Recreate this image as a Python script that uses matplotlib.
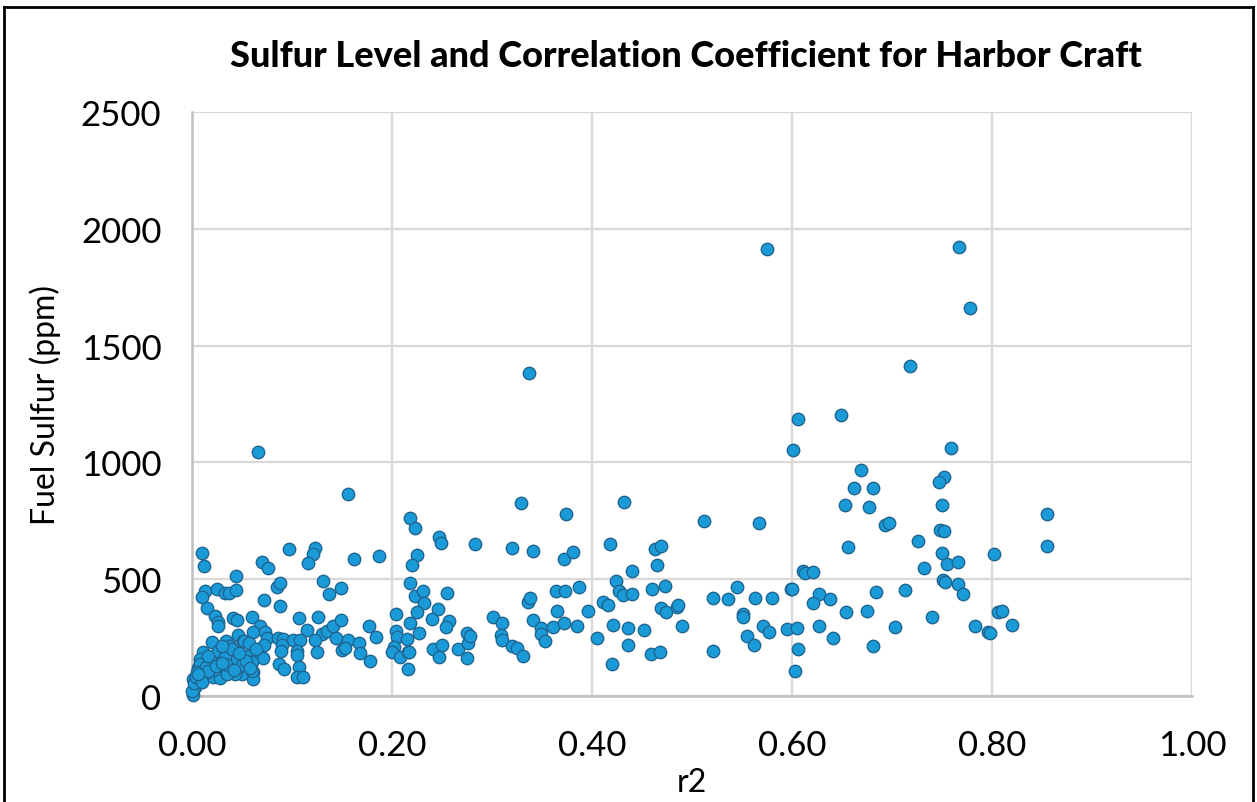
"""
Scatter of fuel sulfur vs r2 for harbor craft.
"""

import matplotlib
matplotlib.use("Agg")
import matplotlib.pyplot as plt
from matplotlib.lines import Line2D

# r2 values (x) and fuel sulfur in ppm (y)
r2 = [
    # dense cluster, r2 < 0.19
    0.066, 0.156, 0.010, 0.012, 0.070, 0.076, 0.097, 0.123, 0.121, 0.116, 0.162, 0.187,
    0.044, 0.013, 0.010, 0.025, 0.033, 0.037, 0.044, 0.015, 0.072, 0.085, 0.088, 0.088,
    0.131, 0.137, 0.149, 0.023, 0.026, 0.026, 0.041, 0.045, 0.060, 0.068, 0.061, 0.073,
    0.075, 0.046, 0.051, 0.107, 0.115, 0.126, 0.130, 0.135, 0.141, 0.149, 0.144, 0.156,
    0.150, 0.153, 0.167, 0.168, 0.177, 0.178, 0.184, 0.086, 0.091, 0.101, 0.108, 0.123,
    0.090, 0.089, 0.105, 0.105, 0.125, 0.087, 0.092, 0.107, 0.105, 0.111, 0.020, 0.011,
    0.028, 0.034, 0.038, 0.052, 0.057, 0.055, 0.066, 0.071, 0.060, 0.061, 0.061, 0.050,
    0.043, 0.048, 0.037, 0.031, 0.018, 0.008, 0.006, 0.001, 0.003, 0.001, 0.011, 0.021,
    0.028, 0.023, 0.035, 0.020, 0.026, 0.033, 0.036, 0.045, 0.050, 0.060, 0.072, 0.013,
    0.008, 0.003, 0.000, 0.002, 0.005, 0.004, 0.014, 0.016,
    0.040, 0.030, 0.016, 0.024, 0.042, 0.054, 0.064, 0.047, 0.010, 0.006, 0.030, 0.058,
    # 0.19 - 0.40
    0.337, 0.218, 0.223, 0.247, 0.249, 0.283, 0.329, 0.374, 0.320, 0.341, 0.372, 0.381,
    0.225, 0.220, 0.218, 0.223, 0.231, 0.232, 0.255, 0.246, 0.240, 0.257, 0.254, 0.225,
    0.218, 0.204, 0.227, 0.204, 0.205, 0.215, 0.202, 0.200, 0.208, 0.216, 0.217, 0.216,
    0.241, 0.250, 0.247, 0.266, 0.276, 0.275, 0.275, 0.278, 0.301, 0.310, 0.309, 0.310,
    0.320, 0.325, 0.331, 0.336, 0.338, 0.341, 0.349, 0.349, 0.353, 0.361, 0.364, 0.373,
    0.387, 0.365, 0.372, 0.385, 0.396,
    # 0.40 - 0.60
    0.575, 0.432, 0.512, 0.567, 0.418, 0.463, 0.469, 0.465, 0.440, 0.424, 0.427, 0.431,
    0.440, 0.460, 0.473, 0.411, 0.416, 0.421, 0.436, 0.452, 0.469, 0.474, 0.485, 0.486,
    0.490, 0.405, 0.436, 0.459, 0.468, 0.420, 0.521, 0.536, 0.545, 0.563, 0.580, 0.551,
    0.551, 0.571, 0.577, 0.555, 0.562, 0.521, 0.599, 0.595,
    # 0.60 - 0.80
    0.606, 0.601, 0.767, 0.778, 0.718, 0.649, 0.759, 0.669, 0.662, 0.681, 0.653, 0.677,
    0.693, 0.697, 0.752, 0.747, 0.750, 0.748, 0.752, 0.726, 0.656, 0.750, 0.755, 0.766,
    0.732, 0.611, 0.613, 0.621, 0.600, 0.627, 0.621, 0.638, 0.684, 0.713, 0.751, 0.753,
    0.766, 0.771, 0.654, 0.675, 0.605, 0.627, 0.703, 0.740, 0.783, 0.796, 0.641, 0.606,
    0.681, 0.603,
    # > 0.80
    0.802, 0.855, 0.855, 0.806, 0.810, 0.820, 0.798,
]

sulfur = [
    1045, 863, 610, 557, 574, 548, 628, 634, 606, 568, 586, 597,
    511, 450, 421, 455, 440, 438, 451, 376, 408, 464, 483, 385,
    490, 434, 460, 342, 317, 297, 332, 326, 336, 300, 273, 272,
    246, 260, 236, 334, 283, 339, 266, 279, 300, 325, 246, 238,
    195, 205, 225, 183, 297, 147, 250, 248, 243, 238, 240, 240,
    217, 190, 193, 173, 189, 136, 114, 121, 78, 78, 231, 189,
    200, 233, 214, 236, 224, 171, 171, 160, 143, 100, 72, 93,
    93, 129, 136, 164, 150, 157, 117, 72, 43, 4, 86, 79,
    76, 114, 93, 146, 193, 164, 131, 157, 131, 107, 217, 93,
    136, 36, 20, 55, 100, 80, 125, 105,
    200, 215, 170, 128, 110, 150, 200, 185, 60, 95, 140, 118,
    1382, 761, 717, 678, 653, 648, 825, 778, 633, 619, 586, 614,
    603, 560, 481, 426, 447, 397, 440, 371, 329, 321, 296, 357,
    310, 351, 267, 276, 250, 243, 207, 189, 167, 189, 189, 114,
    200, 217, 164, 200, 226, 162, 269, 257, 338, 311, 260, 240,
    212, 203, 169, 400, 419, 324, 289, 265, 236, 296, 450, 450,
    464, 363, 310, 297, 364,
    1914, 829, 750, 740, 650, 628, 640, 561, 536, 490, 447, 433,
    436, 457, 469, 403, 389, 304, 289, 283, 376, 360, 381, 387,
    300, 246, 219, 179, 186, 136, 417, 414, 467, 419, 419, 350,
    336, 300, 272, 257, 217, 193, 457, 286,
    1185, 1054, 1924, 1662, 1411, 1203, 1062, 968, 888, 888, 817, 808,
    733, 740, 938, 917, 817, 711, 706, 661, 636, 611, 564, 574,
    547, 536, 527, 531, 457, 436, 397, 414, 443, 453, 497, 489,
    478, 434, 360, 363, 291, 300, 296, 338, 297, 272, 246, 200,
    212, 107,
    607, 778, 640, 360, 364, 304, 269,
]

x_ticks = [0.0, 0.2, 0.4, 0.6, 0.8, 1.0]
y_ticks = [0, 500, 1000, 1500, 2000, 2500]

plt.rcParams["font.family"] = ["Lato", "DejaVu Sans"]

fig = plt.figure(figsize=(12.57, 8.03), dpi=100)
ax = fig.add_axes([0.1527, 0.1324, 0.7956, 0.7266])

ax.scatter(r2, sulfur, s=80, color="#1A9BD7", edgecolors="#1F6591",
           linewidths=1.0, zorder=3, clip_on=False)

ax.set_xlim(0, 1.0)
ax.set_ylim(0, 2500)
ax.set_xticks(x_ticks)
ax.set_yticks(y_ticks)
ax.set_xticklabels([f"{t:.2f}" for t in x_ticks])
ax.set_yticklabels([str(t) for t in y_ticks])
ax.tick_params(length=0, labelsize=25, colors="#000000")
ax.tick_params(axis="x", pad=24)
ax.tick_params(axis="y", pad=22)

ax.grid(True, color="#D9D9D9", linewidth=1.6, zorder=0)
ax.set_axisbelow(True)
for side in ["top", "right"]:
    ax.spines[side].set_visible(False)
for side in ["left", "bottom"]:
    ax.spines[side].set_color("#BFBFBF")
    ax.spines[side].set_linewidth(1.8)

ax.set_xlabel("r2", fontsize=23, labelpad=4)
ax.set_ylabel("Fuel Sulfur (ppm)", fontsize=23, labelpad=14)

fig.text(0.546, 0.930, "Sulfur Level and Correlation Coefficient for Harbor Craft",
         ha="center", va="center", fontsize=26, fontweight="black")

# black frame around the chart (bottom edge is cut off in the original)
frame = dict(color="black", linewidth=2.0, transform=fig.transFigure)
fig.add_artist(Line2D([0.003, 0.003], [0.0, 0.990], **frame))
fig.add_artist(Line2D([0.003, 0.997], [0.990, 0.990], **frame))
fig.add_artist(Line2D([0.997, 0.997], [0.0, 0.990], **frame))

fig.savefig("out.png", dpi=100)
